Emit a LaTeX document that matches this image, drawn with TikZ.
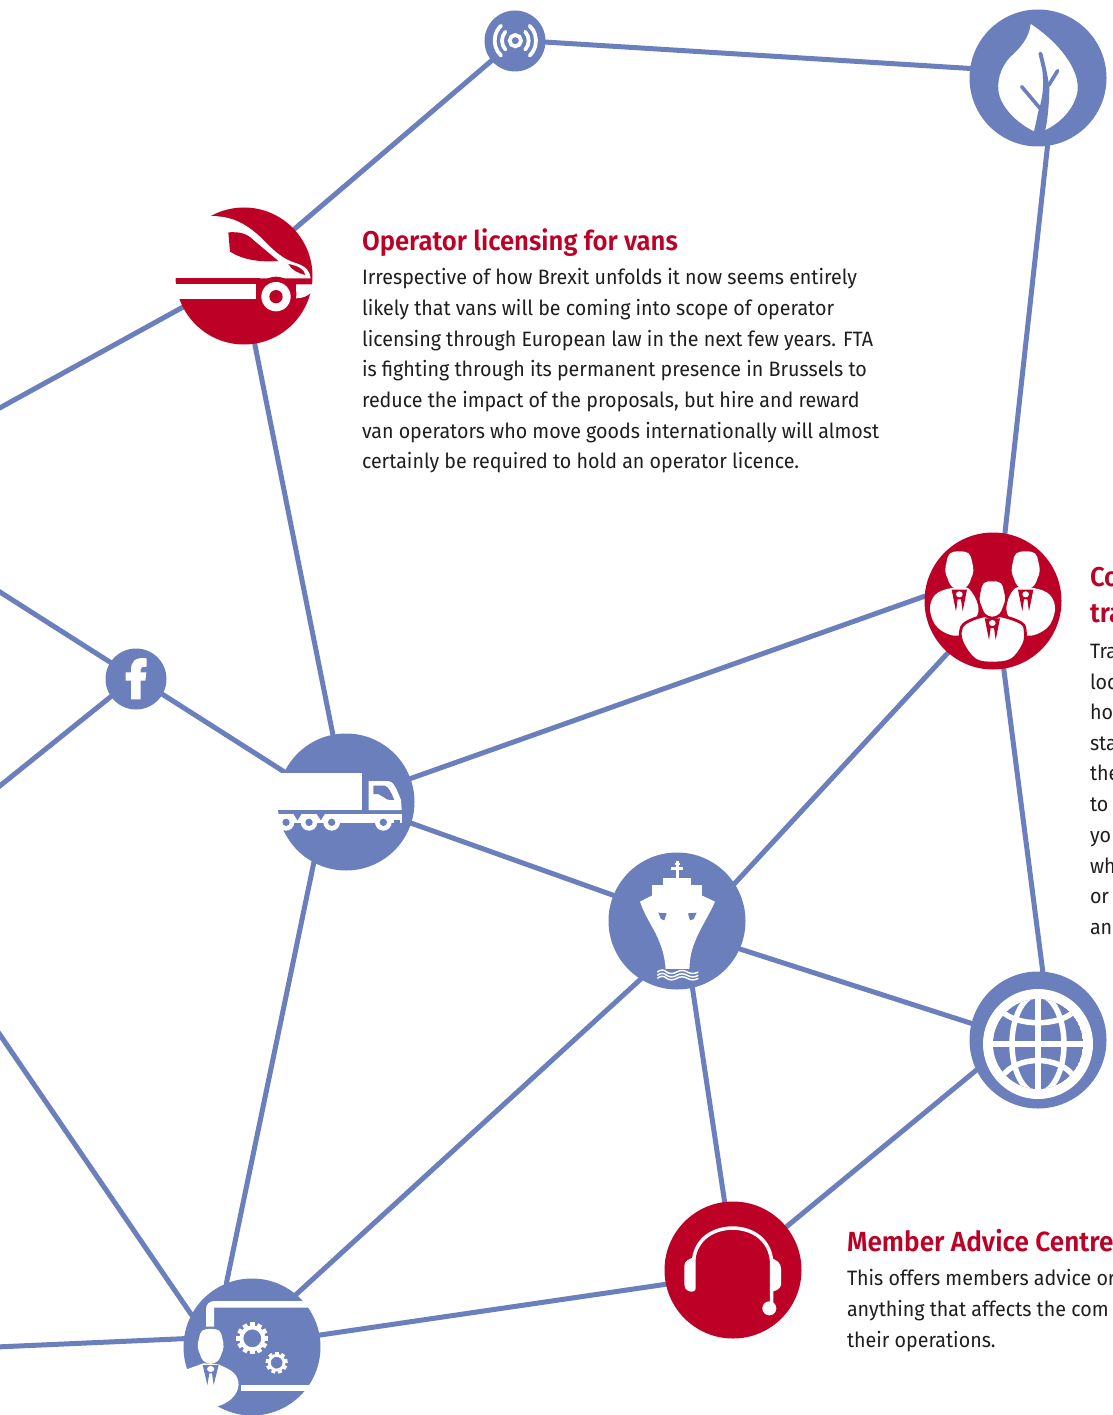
\documentclass[tikz,border=0pt]{standalone}
\usepackage{fontspec}
\setmainfont{Fira Sans}[FakeStretch=0.945,BoldFont={Fira Sans SemiBold},BoldFeatures={FakeStretch=0.945}]
\usetikzlibrary{backgrounds}
\definecolor{netblue}{RGB}{106,127,187}
\definecolor{netred}{RGB}{189,0,38}
\definecolor{bodyink}{RGB}{30,30,30}
\tikzset{
  hubbig/.style={circle,inner sep=0pt,outer sep=0pt,minimum size=137pt},
  hubsmall/.style={circle,inner sep=0pt,outer sep=0pt,minimum size=61pt,fill=netblue},
  bluehub/.style={hubbig,fill=netblue},
  redhub/.style={hubbig,fill=netred},
  link/.style={draw=netblue,line width=5pt,line cap=round},
  headtext/.style={anchor=base west,inner sep=0pt,outer sep=0pt,text=netred,font=\fontsize{27.2}{28}\selectfont\bfseries},
  widehead/.style={headtext,font=\fontsize{27.7}{28}\selectfont\bfseries},
  bodytext/.style={anchor=base west,inner sep=0pt,outer sep=0pt,text=bodyink,font=\fontsize{20.8}{24}\selectfont},
}
\newcommand{\headoutline}{(0,-57) (-28,-51) (-38,-26) (-42,2) (-35,25) (-24,47) (0,57) (24,47) (35,25) (42,2) (38,-26) (28,-51)}
\newcommand{\lapels}[1]{%
  \fill[#1] (-23,58) -- (-10,123) -- (-5,87) -- (5,87) -- (10,123) -- (23,58) -- cycle;
  \fill[white] (0,72) ellipse [x radius=10,y radius=9];}
\newcommand{\figurebody}[3]{%
  \begin{scope}[shift={(#1,#2)}]
    \fill[#3] plot[smooth cycle,tension=0.6] coordinates {(-27,51) (-81,72) (-96,99) (-87,138) (-51,183) (0,192) (57,183) (93,138) (99,99) (87,72) (27,51)};
    \draw[netred,line width=2.8pt] plot[smooth cycle,tension=0.6] coordinates {(-27,51) (-81,72) (-96,99) (-87,138) (-51,183) (0,192) (57,183) (93,138) (99,99) (87,72) (27,51)};
    \fill[white] plot[smooth cycle,tension=0.7] coordinates {\headoutline};
    \draw[netred,line width=2.5pt] plot[smooth cycle,tension=0.7] coordinates {\headoutline};
    \lapels{netred}
  \end{scope}}
\begin{document}
\begin{tikzpicture}[x=1pt,y=-1pt]
\useasboundingbox (0,0) rectangle (1112,1415);
% ---- hubs
\node[hubsmall] (antenna) at (515,41) {};
\node[bluehub] (leaf) at (1038,78) {};
\node[redhub] (van) at (244,276) {};
\node[redhub] (people) at (993,601) {};
\node[hubsmall] (fb) at (136,679) {};
\node[bluehub] (truck) at (346,802) {};
\node[bluehub] (ship) at (677,921) {};
\node[bluehub] (globe) at (1038,1040) {};
\node[redhub] (headset) at (733,1270) {};
\node[bluehub] (desk) at (252,1347) {};
\coordinate (offA) at (-4,410);
\coordinate (offB) at (-4,589.5);
\coordinate (offC) at (-4,789);
\coordinate (offD) at (-4,1029);
\coordinate (offE) at (-4,1347);
% ---- connectors
\begin{scope}[on background layer]
\draw[link] (antenna.-2) -- (leaf.172);
\draw[link] (antenna.220) -- (van.43);
\draw[link] (van.207) -- (offA);
\draw[link] (van.-81.5) -- (truck.101);
\draw[link] (leaf.-82.5) -- (people.80);
\draw[link] (people.176) -- (truck.20);
\draw[link] (people.229) -- (ship.33);
\draw[link] (people.-81.5) -- (globe.86);
\draw[link] (fb.147) -- (offB);
\draw[link] (fb.215) -- (offC);
\draw[link] (fb.-30) -- (truck.154);
\draw[link] (truck.-18) -- (ship.158);
\draw[link] (truck.242.7) -- (desk.112);
\draw[link] (ship.238) -- (desk.50);
\draw[link] (ship.-24) -- (globe.166);
\draw[link] (ship.-77) -- (headset.97);
\draw[link] (globe.206) -- (headset.39.6);
\draw[link] (headset.192.6) -- (desk.10);
\draw[link] (desk.173) -- (offE);
\draw[link] (desk.152) -- (offD);
\end{scope}
% ---- antenna icon
\begin{scope}[shift={(475,0)},scale=0.33333]
\draw[white,line width=3.8pt] (121,122) circle [radius=17];
\draw[white,line width=3.8pt,line cap=round] (121,122) ++(-42:40) arc [start angle=-42,end angle=42,radius=40];
\draw[white,line width=3.8pt,line cap=round] (121,122) ++(138:40) arc [start angle=138,end angle=222,radius=40];
\draw[white,line width=3.8pt,line cap=round] (121,122) ++(-46:62) arc [start angle=-46,end angle=46,radius=62];
\draw[white,line width=3.8pt,line cap=round] (121,122) ++(134:62) arc [start angle=134,end angle=226,radius=62];
\end{scope}
% ---- facebook icon
\begin{scope}[shift={(95,640)},scale=0.33333]
\fill[white] (108,178) -- (137,178) -- (137,122) -- (151,122) -- (154,97) -- (137,97) -- (137,88) .. controls (137,82) and (142,80) .. (155,80) -- (155,55) .. controls (120,50) and (108,65) .. (108,90) -- (108,97) -- (92,97) -- (92,122) -- (108,122) -- cycle;
\end{scope}
% ---- leaf icon
\begin{scope}[shift={(960,0)},scale=0.33333]
\fill[white] (212,72) .. controls (208,115) and (180,145) .. (150,172) .. controls (120,205) and (108,250) .. (118,285) .. controls (130,330) and (180,375) .. (225,395) -- (255,390) .. controls (300,370) and (345,325) .. (353,270) .. controls (358,210) and (300,130) .. (212,72) -- cycle;
\fill[netblue] (236,160) .. controls (250,205) and (257,270) .. (236,330) -- (222,395) -- (240,420) -- (256,390) .. controls (265,350) and (268,290) .. (268,262) .. controls (262,220) and (255,190) .. (246,158) -- cycle;
\draw[netblue,line width=3.6pt,line cap=round] (241,160) -- (250,200);
\draw[netblue,line width=3.6pt,line cap=round] (293,212) -- (266,256);
\draw[netblue,line width=3.6pt,line cap=round] (185,260) -- (240,325);
\end{scope}
% ---- van icon
\begin{scope}[shift={(160,195)},scale=0.33333]
\fill[white] (30,50) -- (30,63) -- (150,63) .. controls (210,63) and (250,80) .. (300,125) .. controls (340,165) and (365,192) .. (410,205) .. controls (440,215) and (450,230) .. (452,250) -- (30,250) -- cycle;
\fill[netred] (205,112) .. controls (240,110) and (260,115) .. (280,135) -- (355,198) .. controls (300,202) and (250,195) .. (210,170) -- cycle;
\fill[netred] (385,207) .. controls (410,212) and (432,220) .. (436,240) .. controls (415,235) and (395,225) .. (385,207) -- cycle;
\fill[netred] (48,250) rectangle (300,268);
\fill[white] (30,268) rectangle (320,312);
\fill[white] (400,268) -- (458,268) -- (455,292) .. controls (440,305) and (425,310) .. (408,310) .. controls (412,295) and (408,280) .. (400,268) -- cycle;
\fill[netred] (348,305) circle [radius=60];
\fill[netred] (288,268) rectangle (408,300);
\fill[white] (348,305) circle [radius=44];
\fill[netred] (348,305) circle [radius=20];
\end{scope}
% ---- truck icon
\begin{scope}[shift={(265,725)},scale=0.33333]
\begin{scope}
\clip (243,231) circle [radius=205];
\fill[netblue] (30,290) rectangle (420,330);
\end{scope}
\fill[white] (25,145) rectangle (290,255);
\fill[white] (25,266) rectangle (410,294);
\fill[white] (311,255) -- (311,168) -- (370,168) .. controls (385,170) and (392,185) .. (408,225) -- (410,255) -- cycle;
\fill[netblue] (325,182) -- (360,182) .. controls (370,185) and (380,205) .. (388,225) -- (368,224) -- (340,207) -- (325,207) -- cycle;
\foreach \xa/\xb in {85/110,155/180}{
  \fill[netblue] (\xa,266) -- (\xb,266) -- ({(\xa+\xb)/2},286) -- cycle;
}
\fill[netblue] (388,284) rectangle (404,294);
\foreach \wx in {63,132,200,355}{
  \fill[white] (\wx,292) circle [radius=25];
  \fill[netblue] (\wx,292) circle [radius=11];
}
\end{scope}
% ---- people icon
\begin{scope}[shift={(915,525)},scale=0.33333]
\begin{scope}
\clip (233,226) circle [radius=195];
\fill[white] plot[smooth cycle,tension=0.6] coordinates {(105,190) (60,210) (45,255) (70,310) (135,330) (190,260) (160,190)};
\fill[white] plot[smooth cycle,tension=0.6] coordinates {(300,190) (275,260) (330,330) (395,310) (420,255) (405,210) (360,190)};
\end{scope}
\begin{scope}[shift={(133,136)}]
\fill[white] plot[smooth cycle,tension=0.7] coordinates {\headoutline};
\lapels{netred}
\end{scope}
\begin{scope}[shift={(332,136)}]
\fill[white] plot[smooth cycle,tension=0.7] coordinates {\headoutline};
\lapels{netred}
\end{scope}
\figurebody{232}{222}{white}
\end{scope}
% ---- ship icon
\begin{scope}[shift={(600,845)},scale=0.33333]
\fill[white] (227,47) rectangle (237,105);
\fill[white] (224,54) rectangle (240,60);
\fill[white] (212,67) rectangle (248,75);
\fill[white] (190,100) rectangle (272,122);
\fill[white] (155,120) rectangle (307,156);
\fill[white] (120,170) -- (155,152) -- (307,152) -- (345,170) .. controls (325,215) and (300,250) .. (285,290) .. controls (272,320) and (268,350) .. (268,385) -- (197,385) .. controls (197,350) and (190,320) .. (178,290) .. controls (165,255) and (135,215) .. (120,170) -- cycle;
\fill[netblue] (175,203) -- (200,205) -- (193,226) -- (183,222) -- cycle;
\fill[netblue] (264,205) -- (290,203) -- (281,222) -- (270,226) -- cycle;
\fill[netblue] (190,372) rectangle (275,386);
\foreach \wy in {381,391,400}{
  \draw[white,line width=1.5pt] (172,\wy) .. controls (182,\wy-8) and (192,\wy-8) .. (200,\wy) .. controls (208,\wy+6) and (220,\wy+6) .. (230,\wy) .. controls (240,\wy-6) and (252,\wy-6) .. (262,\wy) .. controls (272,\wy+6) and (284,\wy+6) .. (295,\wy);
}
\end{scope}
% ---- globe icon
\begin{scope}[shift={(960,965)},scale=0.33333]
\fill[white] (234,237) circle [radius=165];
\begin{scope}
\clip (234,237) circle [radius=135];
\fill[netblue] (234,237) circle [radius=135];
\draw[white,line width=5.5pt] (234,90) -- (234,385);
\draw[white,line width=5.5pt] (90,237) -- (380,237);
\draw[white,line width=5.5pt] (234,237) ellipse [x radius=78,y radius=148];
\draw[white,line width=5.5pt] (125,138) .. controls (170,185) and (298,185) .. (343,138);
\draw[white,line width=5.5pt] (125,336) .. controls (170,270) and (298,270) .. (343,336);
\end{scope}
\end{scope}
% ---- headset icon
\begin{scope}[shift={(655,1195)},scale=0.33333]
\draw[white,line width=3.5pt] (116,192) .. controls (125,130) and (175,100) .. (233,99) .. controls (295,100) and (345,135) .. (350,200) -- (350,330);
\fill[white] (88,212) .. controls (88,200) and (100,190) .. (122,186) -- (122,280) .. controls (122,290) and (110,292) .. (100,288) .. controls (92,285) and (88,278) .. (88,268) -- cycle;
\fill[white] (345,190) .. controls (365,192) and (378,205) .. (378,220) -- (378,270) .. controls (375,282) and (362,290) .. (345,290) -- cycle;
\fill[white] (343,340) circle [radius=21];
\end{scope}
% ---- desk icon
\begin{scope}[shift={(170,1270)},scale=0.33333]
\fill[white] (108,170) -- (108,118) .. controls (108,103) and (118,93) .. (133,93) -- (470,93) -- (470,113) -- (132,113) -- (132,170) -- cycle;
\fill[white] (212,345) rectangle (470,363);
\fill[white] (100,280) -- (50,298) -- (20,298) -- (20,430) -- (145,408) .. controls (190,395) and (210,360) .. (205,335) .. controls (200,310) and (185,300) .. (145,283) -- cycle;
\begin{scope}[shift={(122,229)},scale=0.92]
\fill[white] plot[smooth cycle,tension=0.7] coordinates {\headoutline};
\end{scope}
\fill[netblue] (98,285) -- (112,345) -- (118,310) -- (126,310) -- (131,345) -- (146,285) -- cycle;
\fill[white] (122,297) ellipse [x radius=11,y radius=9];
\foreach \a in {0,30,...,330}{
  \fill[white,rotate around={\a:(247,205)}] (240,157) rectangle (254,175);
}
\draw[white,line width=4pt] (247,205) circle [radius=33];
\foreach \a in {0,40,...,320}{
  \fill[white,rotate around={\a:(320,278)}] (314,245) rectangle (326,258);
}
\draw[white,line width=2.8pt] (320,278) circle [radius=22];
\end{scope}
% ---- text
\begin{scope}
\clip (0,0) rectangle (1112,1415);
\node[headtext] (vanhead) at (362,250.5) {Operator licensing for vans};
\node[bodytext] (vanA) at (362,284.3) {Irrespective of how Brexit unfolds it now seems entirely};
\node[bodytext] (vanB) at (362,315.3) {likely that vans will be coming into scope of operator};
\node[bodytext] (vanC) at (362,346) {licensing through European law in the next few years. FTA};
\node[bodytext] (vanD) at (362,376.5) {is fighting through its permanent presence in Brussels to};
\node[bodytext] (vanE) at (362,407.3) {reduce the impact of the proposals, but hire and reward};
\node[bodytext] (vanF) at (362,438) {van operators who move goods internationally will almost};
\node[bodytext] (vanG) at (362,468.5) {certainly be required to hold an operator licence.};
\node[headtext] (cohead) at (1090,586) {Co};
\node[headtext] (trhead) at (1090,622) {tra};
\node[bodytext] (coA) at (1090,658.5) {Tra};
\node[bodytext] (coB) at (1090,689) {loc};
\node[bodytext] (coC) at (1090,719) {ho};
\node[bodytext] (coD) at (1090,750) {sta};
\node[bodytext] (coE) at (1090,780.5) {the};
\node[bodytext] (coF) at (1090,811.5) {to};
\node[bodytext] (coG) at (1090,842.5) {yo};
\node[bodytext] (coH) at (1090,873) {wh};
\node[bodytext] (coI) at (1090,903.5) {or};
\node[bodytext] (coJ) at (1090,934.5) {an};
\node[widehead] (machead) at (847,1251) {Member Advice Centre};
\node[bodytext] (macA) at (847,1285.5) {This offers members advice or};
\node[bodytext] (macB) at (847,1316.5) {anything that affects the com};
\node[bodytext] (macC) at (847,1347.5) {their operations.};
\end{scope}
\end{tikzpicture}
\end{document}
